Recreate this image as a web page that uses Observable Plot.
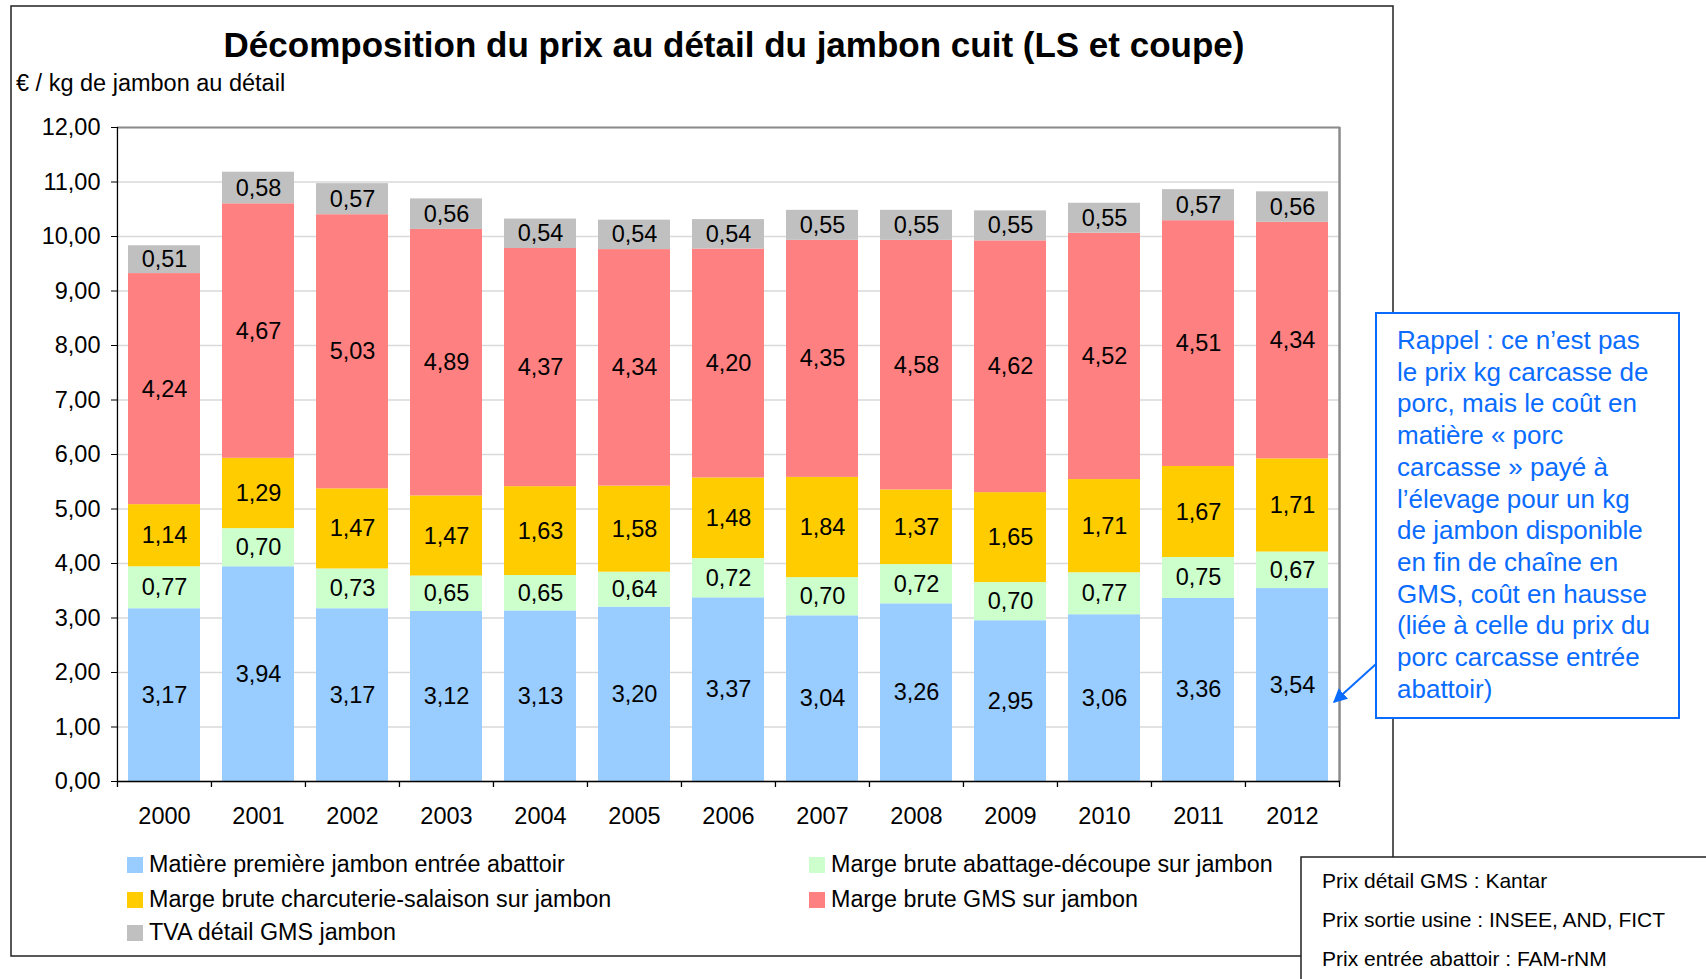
<!DOCTYPE html>
<html><head><meta charset="utf-8">
<script src="https://cdn.jsdelivr.net/npm/d3@7"></script>
<script src="https://cdn.jsdelivr.net/npm/@observablehq/plot@0.6"></script>
<style>
html,body{margin:0;padding:0;background:#fff;}
#wrap{position:relative;width:1706px;height:979px;overflow:hidden;font-family:"Liberation Sans",Arial,sans-serif;color:#000;}
#wrap > svg{position:absolute;left:0;top:0;}
.abs{position:absolute;white-space:nowrap;}
</style></head><body><div id="wrap"></div>
<script>
// ---- data ----
const years = ["2000","2001","2002","2003","2004","2005","2006","2007","2008","2009","2010","2011","2012"];
const seriesNames = [
  "Matière première jambon entrée abattoir",
  "Marge brute abattage-découpe sur jambon",
  "Marge brute charcuterie-salaison sur jambon",
  "Marge brute GMS sur jambon",
  "TVA détail GMS jambon"
];
const matiere     = [3.17, 3.94, 3.17, 3.12, 3.13, 3.20, 3.37, 3.04, 3.26, 2.95, 3.06, 3.36, 3.54];
const abattage    = [0.77, 0.70, 0.73, 0.65, 0.65, 0.64, 0.72, 0.70, 0.72, 0.70, 0.77, 0.75, 0.67];
const charcuterie = [1.14, 1.29, 1.47, 1.47, 1.63, 1.58, 1.48, 1.84, 1.37, 1.65, 1.71, 1.67, 1.71];
const gms         = [4.24, 4.67, 5.03, 4.89, 4.37, 4.34, 4.20, 4.35, 4.58, 4.62, 4.52, 4.51, 4.34];
const tva         = [0.51, 0.58, 0.57, 0.56, 0.54, 0.54, 0.54, 0.55, 0.55, 0.55, 0.55, 0.57, 0.56];
const colors = ["#99CCFF", "#CCFFCC", "#FFCC00", "#FF8080", "#C0C0C0"];
const yTicks = [0,1,2,3,4,5,6,7,8,9,10,11,12];
const titleText = "Décomposition du prix au détail du jambon cuit (LS et coupe)";
const yLabelText = "€ / kg de jambon au détail";
const calloutLines = [
  "Rappel : ce n’est pas",
  "le prix kg carcasse de",
  "porc, mais le coût en",
  "matière « porc",
  "carcasse » payé à",
  "l’élevage pour un kg",
  "de jambon disponible",
  "en fin de chaîne en",
  "GMS, coût en hausse",
  "(liée à celle du prix du",
  "porc carcasse entrée",
  "abattoir)"
];
const sourceLines = [
  "Prix détail GMS : Kantar",
  "Prix sortie usine : INSEE, AND, FICT",
  "Prix entrée abattoir : FAM-rNM"
];

(function () {
// ---- table ----
const seriesValues = [matiere, abattage, charcuterie, gms, tva];
const rows = [];
seriesNames.forEach((s, si) => years.forEach((y, i) => rows.push({year: y, series: s, value: seriesValues[si][i]})));

const fmt = v => v.toFixed(2).replace(".", ",");

const W = 1706, H = 979;
const pL = 117, pR = 1340, pT = 127, pB = 781;
const half = (pR - pL) / years.length / 2;
const fs = 23.5;

const chart = Plot.plot({
  width: W, height: H,
  marginLeft: pL, marginRight: W - pR, marginTop: pT, marginBottom: H - pB,
  style: {fontFamily: "'Liberation Sans', Arial, sans-serif", fontSize: fs + "px", color: "#000", background: "transparent"},
  x: {domain: years, paddingInner: 0.23, paddingOuter: 0.115, axis: null},
  y: {domain: [0, 12], axis: null},
  color: {domain: seriesNames, range: colors},
  marks: [
    Plot.gridY(yTicks, {stroke: "#d9d9d9", strokeOpacity: 1, strokeWidth: 1.3}),
    Plot.barY(rows, {x: "year", y: "value", fill: "series", order: seriesNames}),
    Plot.text(rows, Plot.stackY({x: "year", y: "value", z: "series", order: seriesNames, text: d => fmt(d.value), fill: "#000", fontSize: fs})),
    Plot.ruleY([12], {stroke: "#8c8c8c", strokeWidth: 2}),
    Plot.ruleX([years[years.length - 1]], {dx: half, stroke: "#8c8c8c", strokeWidth: 2.5}),
    Plot.ruleX([years[0]], {dx: -half, stroke: "#000", strokeWidth: 1.3}),
    Plot.ruleY([0], {stroke: "#000", strokeWidth: 1.3}),
    Plot.ruleX(years, {x: d => d, dx: -half, y1: 0, y2: 0, insetTop: 0, insetBottom: -6, stroke: "#000", strokeWidth: 1.3}),
    Plot.ruleX([years[years.length - 1]], {dx: half, y1: 0, y2: 0, insetTop: 0, insetBottom: -6, stroke: "#000", strokeWidth: 1.3}),
    Plot.axisY(yTicks, {tickSize: 6, tickPadding: 11, tickFormat: fmt, label: null, fontSize: fs, stroke: "#000"}),
    Plot.axisX({tickSize: 0, tickPadding: 26, label: null, fontSize: fs})
  ]
});

const wrap = document.getElementById("wrap");
wrap.appendChild(chart);

// ---- overlay: frames, boxes, arrow ----
const ns = "http://www.w3.org/2000/svg";
const ov = document.createElementNS(ns, "svg");
ov.setAttribute("width", W); ov.setAttribute("height", H);
ov.innerHTML = `
  <defs><marker id="ah" viewBox="0 0 10 10" refX="9" refY="5" markerWidth="7" markerHeight="7" orient="auto-start-reverse">
    <path d="M0,0 L10,5 L0,10 z" fill="#0A6CFF"/></marker></defs>
  <rect x="11" y="6" width="1382" height="950" fill="none" stroke="#222" stroke-width="1.5"/>
  <rect x="1301" y="857" width="460" height="200" fill="#fff" stroke="#222" stroke-width="1.5"/>
  <rect x="1376" y="313" width="303" height="405" fill="#fff" stroke="#0A6CFF" stroke-width="2"/>
  <line x1="1376" y1="664" x2="1334" y2="702" stroke="#0A6CFF" stroke-width="2" marker-end="url(#ah)"/>
`;
wrap.appendChild(ov);

function addDiv(text, css) {
  const d = document.createElement("div");
  d.className = "abs";
  d.textContent = text;
  Object.assign(d.style, css);
  wrap.appendChild(d);
  return d;
}

// title
addDiv(titleText, {left: "734px", top: "25px", transform: "translateX(-50%)", fontSize: "35px", fontWeight: "bold", lineHeight: "40px"});
// y label
addDiv(yLabelText, {left: "16px", top: "69px", fontSize: "23.5px", lineHeight: "28px"});

// legend
const legendPos = [
  {x: 127, y: 864}, {x: 809, y: 864},
  {x: 127, y: 899}, {x: 809, y: 899},
  {x: 127, y: 932}
];
seriesNames.forEach((s, i) => {
  const p = legendPos[i];
  const sw = document.createElement("div");
  sw.className = "abs";
  Object.assign(sw.style, {left: p.x + "px", top: (p.y - 7) + "px", width: "16px", height: "16px", background: colors[i]});
  wrap.appendChild(sw);
  addDiv(s, {left: (p.x + 22) + "px", top: (p.y - 14) + "px", fontSize: "23.3px", lineHeight: "28px"});
});

// callout
const co = document.createElement("div");
co.className = "abs";
Object.assign(co.style, {left: "1397px", top: "325px", fontSize: "26px", lineHeight: "31.7px", color: "#0A6CFF"});
co.innerHTML = calloutLines.map(l => l.replace(/&/g, "&amp;").replace(/</g, "&lt;")).join("<br>");
wrap.appendChild(co);

// sources
const so = document.createElement("div");
so.className = "abs";
Object.assign(so.style, {left: "1322px", top: "861px", fontSize: "21px", lineHeight: "39px", color: "#000"});
so.innerHTML = sourceLines.join("<br>");
wrap.appendChild(so);
})();
</script>
</body></html>
